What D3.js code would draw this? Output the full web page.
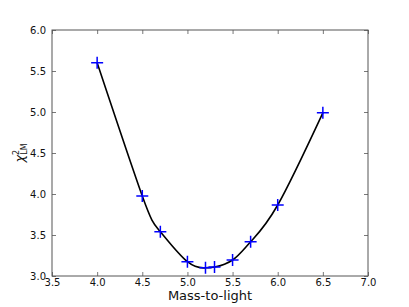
<!DOCTYPE html>
<html>
<head>
<meta charset="utf-8">
<script src="https://cdn.jsdelivr.net/npm/d3@7"></script>
<style>
  body { margin: 0; background: #fff; }
  text { font-family: "DejaVu Sans", sans-serif; }
</style>
</head>
<body>
<div id="chart-area"></div>
<script>
// data
var massToLight = [4.0, 4.5, 4.7, 5.0, 5.2, 5.3, 5.5, 5.7, 6.0, 6.5];
var chi2 = [5.60, 3.975, 3.54, 3.174, 3.10, 3.11, 3.195, 3.418, 3.866, 4.99];
var xTicks = [3.5, 4.0, 4.5, 5.0, 5.5, 6.0, 6.5, 7.0];
var yTicks = [3.0, 3.5, 4.0, 4.5, 5.0, 5.5, 6.0];

var data = massToLight.map((m, i) => ({ x: m, y: chi2[i] }));

var margin = { left: 52, right: 41, top: 30, bottom: 31 };
var width = 409 - margin.left - margin.right,
    height = 307 - margin.top - margin.bottom;

var svg = d3.select("#chart-area")
  .append("svg")
  .attr("width", 409)
  .attr("height", 307);

var g = svg.append("g")
  .attr("transform", "translate(" + margin.left + "," + margin.top + ")");

var xScale = d3.scaleLinear().domain([3.5, 7.0]).range([0, width]);
var yScale = d3.scaleLinear().domain([3.0, 6.0]).range([height, 0]);

// axes, ticks pointing inward like matplotlib classic
function styleAxis(sel) {
  sel.select(".domain").remove();
  sel.selectAll("line").attr("stroke", "#555").attr("stroke-width", 0.8);
  sel.selectAll("text").attr("font-size", "10px").attr("fill", "#111")
    .style("font-family", "DejaVu Sans");
}

g.append("g")
  .attr("transform", "translate(0," + height + ")")
  .call(d3.axisBottom(xScale).tickValues(xTicks).tickFormat(d3.format(".1f"))
    .tickSizeInner(-4).tickSizeOuter(0).tickPadding(3))
  .call(styleAxis);

g.append("g")
  .call(d3.axisTop(xScale).tickValues(xTicks).tickFormat("")
    .tickSizeInner(-4).tickSizeOuter(0))
  .call(styleAxis);

g.append("g")
  .call(d3.axisLeft(yScale).tickValues(yTicks).tickFormat(d3.format(".1f"))
    .tickSizeInner(-4).tickSizeOuter(0).tickPadding(6))
  .call(styleAxis);

g.append("g")
  .attr("transform", "translate(" + width + ",0)")
  .call(d3.axisRight(yScale).tickValues(yTicks).tickFormat("")
    .tickSizeInner(-4).tickSizeOuter(0))
  .call(styleAxis);

// frame
g.append("rect")
  .attr("width", width)
  .attr("height", height)
  .attr("fill", "none")
  .attr("stroke", "#555")
  .attr("stroke-width", 1);

// fitted curve
var line = d3.line()
  .x(d => xScale(d.x))
  .y(d => yScale(d.y))
  .curve(d3.curveNatural);

g.append("path")
  .datum(data)
  .attr("d", line)
  .attr("fill", "none")
  .attr("stroke", "black")
  .attr("stroke-width", 1.6);

// plus markers
g.selectAll(".pt")
  .data(data)
  .enter()
  .append("path")
  .attr("class", "pt")
  .attr("transform", d => "translate(" + xScale(d.x) + "," + yScale(d.y) + ")")
  .attr("d", "M-6,0H6M0,-6V6")
  .attr("stroke", "blue")
  .attr("stroke-width", 1.5)
  .attr("fill", "none");

// x label
g.append("text")
  .attr("x", width / 2)
  .attr("y", height + 24)
  .attr("font-size", "13px")
  .attr("fill", "#111")
  .attr("text-anchor", "middle")
  .text("Mass-to-light");

// y label: chi^2_LM
var ylab = g.append("text")
  .attr("transform", "translate(-28," + (height / 2) + ") rotate(-90)")
  .attr("text-anchor", "middle")
  .attr("fill", "#111")
  .attr("font-size", "13px");
ylab.append("tspan").attr("font-style", "italic").text("\u03c7");
ylab.append("tspan").attr("font-size", "8px").attr("dy", -5).text("2");
ylab.append("tspan").attr("font-size", "8px").attr("dy", 8).attr("dx", -5).text("LM");
</script>
</body>
</html>
